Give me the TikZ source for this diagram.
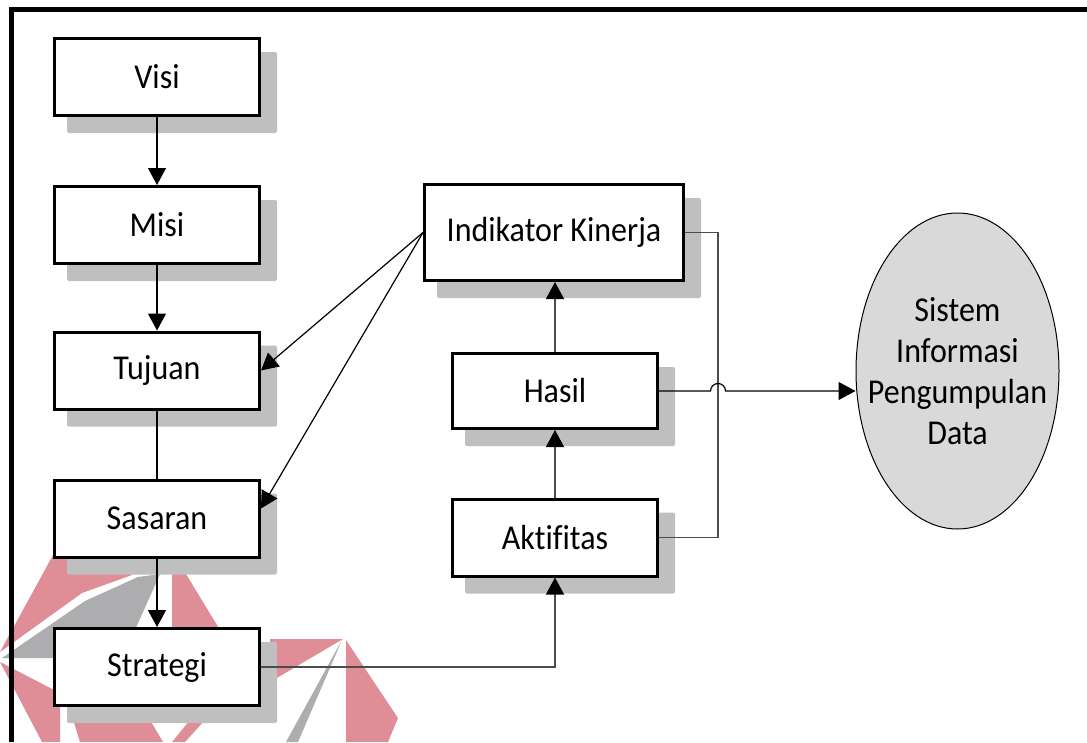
\documentclass[tikz,border=0pt]{standalone}
\usepackage{fontspec}
\setmainfont{Carlito}[Ligatures=CommonOff]
\usetikzlibrary{arrows.meta,shapes.geometric,calc}
\pgfdeclarelayer{wm}\pgfdeclarelayer{bg}\pgfsetlayers{wm,bg,main}
\definecolor{shadowc}{HTML}{BFBFBF}
\definecolor{wmpink}{HTML}{DF8D96}
\definecolor{wmgray}{HTML}{ADADAF}
\definecolor{ellfill}{HTML}{D9D9D9}
\newcommand{\tx}[1]{\scalebox{1}[1.09]{#1}}
\begin{document}
\begin{tikzpicture}[x=1pt,y=-1pt,
 box/.style={draw=black, line width=3pt, fill=white, inner sep=0pt, minimum width=205pt, minimum height=77pt, font=\fontsize{32}{37.6}\selectfont},
 conn/.style={line width=1.2pt, draw=black},
 connG/.style={line width=1.2pt, draw=black!70},
 tri/.style={-{Triangle[length=17pt,width=18pt,color=black]}},
 frameline/.style={line width=5pt, draw=black}]
\useasboundingbox (0,0) rectangle (1087,742);
% nodes
\node[box] (visi) at (157,77) {\tx{Visi}};
\node[box] (misi) at (157,225) {\tx{Misi}};
\node[box] (tujuan) at (157,370.5) {\tx{Tujuan}};
\node[box] (sasaran) at (157,518.5) {\tx{Sasaran}};
\node[box] (strategi) at (157,667) {\tx{Strategi}};
\node[box, minimum width=259pt, minimum height=96pt] (ik) at (554,232.5) {\tx{Indikator Kinerja}};
\node[box, minimum height=75pt] (hasil) at (555,391) {\tx{Hasil}};
\node[box] (akt) at (555,537.5) {\tx{Aktifitas}};
\node[ellipse, draw=black, line width=1pt, fill=ellfill, minimum width=203pt, minimum height=316pt, inner sep=0pt] (sis) at (957.5,371) {};
\node[inner sep=0pt, align=center, font=\fontsize{32}{37.6}\selectfont] (sistxt) at (957.5,375) {\tx{\begin{tabular}{@{}c@{}}Sistem\\Informasi\\Pengumpulan\\Data\end{tabular}}};
% shadows
\begin{pgfonlayer}{bg}
\foreach \n in {visi,misi,tujuan,sasaran,strategi,ik,hasil,akt}
  \fill[shadowc, rounded corners=2pt] ([shift={(14,16)}]\n.south west) rectangle ([shift={(16,15)}]\n.north east);
\end{pgfonlayer}
% watermark
\begin{pgfonlayer}{wm}
\fill[white] (0,0) rectangle (1087,742);
\fill[wmpink] (0,652) -- (53,555) -- (128,555) -- (132,575) -- (82,593) -- cycle;
\fill[wmgray] (2,658) -- (85,601) -- (138,577) -- (160,574) -- (135,630) -- (53,658) -- cycle;
\fill[wmpink] (172,574) -- (186,574) -- (220,630) -- (172,630) -- cycle;
\fill[wmpink] (270,639) -- (343,639) -- (270,682) -- cycle;
\fill[wmpink] (346,640) -- (398,718) -- (388,742) -- (346,742) -- cycle;
\fill[wmgray] (342,640) -- (286,742) -- (298,742) -- cycle;
\fill[wmpink] (0,662) -- (60,693) -- (60,742) -- (42,742) -- cycle;
\fill[wmpink] (67,700) -- (150,720) -- (163,742) -- (80,742) -- cycle;
\fill[wmpink] (172,742) -- (190,720) -- (205,720) -- (185,742) -- cycle;
\end{pgfonlayer}
% connectors
\draw[conn,tri] (visi) -- (misi);
\draw[conn,tri] (misi) -- (tujuan);
\draw[conn] (tujuan) -- (sasaran);
\draw[conn,tri] (sasaran) -- (strategi);
\draw[connG,tri] (strategi.east) -| (akt.south);
\draw[connG,tri] (akt.north) -- (akt.north |- hasil.south);
\draw[connG,tri] (hasil.north) -- (hasil.north |- ik.south);
\draw[conn,tri] (ik.west) -- (tujuan.east);
\draw[conn,tri] (ik.west) -- ([yshift=10pt]sasaran.east);
\coordinate (vx) at ([xshift=33pt]ik.east);
\draw[connG] (ik.east) -- (vx) |- (akt.east);
\coordinate (hop) at (hasil.east -| vx);
\draw[conn,tri] (hasil.east) -- ([xshift=-7.5pt]hop) arc[start angle=180, end angle=0, radius=7.5pt] -- (hasil.east -| sis.west);
% frame
\draw[frameline] (11.5,742) -- (11.5,9.5) -- (1087,9.5);
\end{tikzpicture}
\end{document}
